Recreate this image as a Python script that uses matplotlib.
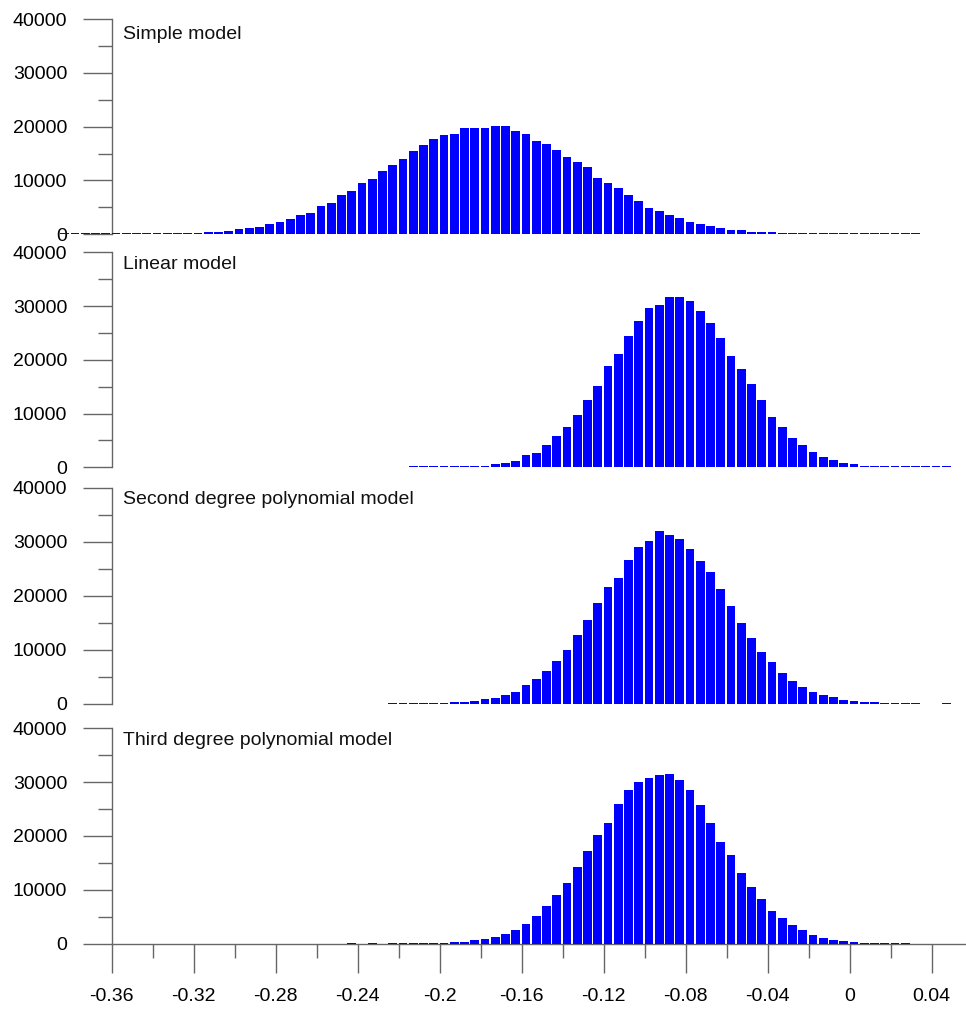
import numpy as np
import matplotlib
matplotlib.use('Agg')
import matplotlib.pyplot as plt
from matplotlib.ticker import FixedLocator

plt.rcParams['font.family'] = ['Liberation Sans', 'DejaVu Sans']
plt.rcParams['axes.unicode_minus'] = False

BIN = 0.005

# histogram counts per 0.005 bin, first bin left edge given separately
simple_start = -0.385
simple_counts = [150] * 12 + [
    250, 250, 430, 430, 620, 990, 1180, 1360, 1920, 2290, 2850, 3590, 3960,
    5260, 5820, 7300, 8050, 9530, 10280, 11760, 12880, 13990, 15480, 16590,
    17700, 18450, 18630, 19750, 19750, 19750, 20120, 20120, 19190, 18630,
    17330, 16770, 15660, 14360, 13430, 12500, 10460, 9530, 8600, 7300, 6190,
    4890, 4330, 3590, 3030, 2290, 1920, 1550, 1180, 800, 800, 430, 430, 430,
    250] + [150] * 13

linear_start = -0.215
linear_counts = [150] * 6 + [
    250, 250, 620, 800, 1180, 2290, 2660, 4150, 5820, 7500, 9720, 12500,
    15100, 18820, 21050, 24390, 27180, 29590, 30150, 31630, 31630, 30890,
    29030, 26800, 24020, 20680, 18260, 15480, 12500, 9350, 7500, 5450, 4150,
    2850, 1920, 1360, 800, 620, 250, 250] + [150] * 7

quad_start = -0.225
quad_counts = [150] * 6 + [
    250, 250, 430, 800, 990, 1550, 2110, 3410, 4530, 6010, 7870, 9920, 12710,
    15500, 18660, 21640, 23310, 26660, 29080, 30190, 32050, 31310, 30570,
    28710, 26470, 24430, 21270, 18100, 14940, 12150, 9550, 7690, 5640, 4150,
    3040, 2110, 1550, 1180, 620, 430, 250, 190,
    150, 150, 150, 150, 0, 0, 150]

cubic_start = -0.245
cubic_counts = [
    150, 0, 150, 0, 150, 150, 150, 150, 150, 150,
    310, 310, 680, 870, 1240, 1800, 2540, 3650, 5140, 6990, 9040, 11270,
    14240, 17210, 20180, 22410, 25940, 28540, 30020, 30760, 31320, 31510,
    30390, 28540, 25750, 22410, 18880, 16470, 13120, 10520, 8290, 6070, 4770,
    3470, 2540, 1610, 1050, 720, 460, 260,
    150, 150, 150, 150, 150]

panel_names = ['Simple model', 'Linear model',
               'Second degree polynomial model', 'Third degree polynomial model']
panel_data = [(simple_start, simple_counts), (linear_start, linear_counts),
              (quad_start, quad_counts), (cubic_start, cubic_counts)]

y_ticks = [0, 10000, 20000, 30000, 40000]
y_minor = [5000, 15000, 25000, 35000]
x_ticks = [-0.36, -0.32, -0.28, -0.24, -0.2, -0.16, -0.12, -0.08, -0.04, 0, 0.04]
x_tick_labels = ['-0.36', '-0.32', '-0.28', '-0.24', '-0.2', '-0.16', '-0.12',
                 '-0.08', '-0.04', '0', '0.04']
x_minor = [-0.34, -0.30, -0.26, -0.22, -0.18, -0.14, -0.10, -0.06, -0.02, 0.02]

W, H = 966, 1010
fig = plt.figure(figsize=(W / 100, H / 100), dpi=100)

# pixel layout: baseline and top of each panel, x position of the y axis
px_per_unit = 2050.0
y_axis_px = 111.7
panel_px = [(234.3, 19.0), (467.3, 252.3), (703.5, 488.0), (943.7, 728.3)]
label_px_below = [7, 3.5, 3.5, 3.5]

x_left = -0.36 - y_axis_px / px_per_unit
x_right = -0.36 + (W - y_axis_px) / px_per_unit
axis_col = '#666666'

for i, ((base, top), name, (start, counts)) in enumerate(
        zip(panel_px, panel_names, panel_data)):
    ax = fig.add_axes([0, 1 - base / H, 1, (base - top) / H])
    ax.set_facecolor('none')
    edges = start + BIN * np.arange(len(counts))
    ax.bar(edges, counts, width=BIN * 0.85, align='edge', color='#0000ff',
           linewidth=0, zorder=3)
    ax.set_xlim(x_left, x_right)
    ax.set_ylim(0, 40000)

    for side in ['top', 'right']:
        ax.spines[side].set_visible(False)
    ax.spines['left'].set_position(('data', -0.36))
    ax.spines['left'].set_bounds(0, 40000)
    ax.spines['left'].set_color(axis_col)
    ax.spines['left'].set_linewidth(1.0)

    ax.yaxis.set_major_locator(FixedLocator(y_ticks))
    ax.yaxis.set_minor_locator(FixedLocator(y_minor))
    ax.set_yticklabels([str(v) for v in y_ticks])
    ax.tick_params(axis='y', which='major', direction='out', length=21,
                   width=1.0, color=axis_col, pad=11, labelsize=14)
    ax.tick_params(axis='y', which='minor', direction='out', length=10,
                   width=1.0, color=axis_col)

    if i == 3:
        ax.spines['bottom'].set_color(axis_col)
        ax.spines['bottom'].set_linewidth(1.0)
        ax.spines['bottom'].set_bounds(-0.36, x_right)
        ax.xaxis.set_major_locator(FixedLocator(x_ticks))
        ax.xaxis.set_minor_locator(FixedLocator(x_minor))
        ax.set_xticklabels(x_tick_labels)
        ax.tick_params(axis='x', which='major', direction='out', length=21,
                       width=1.0, color=axis_col, pad=11, labelsize=14)
        ax.tick_params(axis='x', which='minor', direction='out', length=10,
                       width=1.0, color=axis_col)
    else:
        ax.spines['bottom'].set_visible(False)
        ax.set_xticks([])

    label_y = 40000 - label_px_below[i] * 40000 / (base - top)
    ax.text(-0.3545, label_y, name, fontsize=14, va='top', ha='left',
            color='#111111')

fig.savefig('out.png', dpi=100, facecolor='white')
